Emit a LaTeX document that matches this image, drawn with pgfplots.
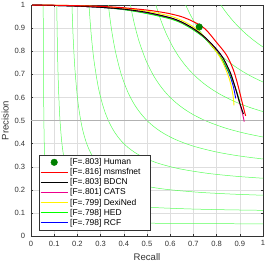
\documentclass[border=0pt]{standalone}
\usepackage{fontspec}
\setmainfont{Liberation Sans}
\usepackage{pgfplots}
\pgfplotsset{compat=1.18}
\definecolor{isoF}{rgb}{0.35,1,0.35}
\definecolor{hgreen}{rgb}{0,0.5,0}
\definecolor{refgray}{rgb}{0.7,0.7,0.7}
\begin{document}
\begin{tikzpicture}
\begin{axis}[
  scale only axis, width=232bp, height=231bp,
  xmin=0, xmax=1, ymin=0, ymax=1,
  xtick={0,0.1,0.2,0.3,0.4,0.5,0.6,0.7,0.8,0.9,1},
  ytick={0,0.1,0.2,0.3,0.4,0.5,0.6,0.7,0.8,0.9,1},
  /pgf/number format/assume math mode=true,
  ticklabel style={font=\fontsize{7.6}{8}\selectfont, text=black!80},
  xticklabel style={yshift=-1.2bp},
  yticklabel style={xshift=-2.4bp},
  xlabel={Recall}, ylabel={Precision},
  label style={font=\fontsize{9.6}{10}\selectfont, text=black!80},
  xlabel style={at={(axis description cs:0.5,0)}, anchor=center, yshift=-20.7bp},
  ylabel style={at={(axis description cs:0,0.5)}, anchor=center, yshift=25.8bp},
  grid=major, major grid style={black!13, line width=0.4pt},
  tick align=inside, major tick length=2.5bp,
  tick style={black!80, line width=0.4pt},
  axis line style={black!80, line width=0.5pt},
  legend image code/.code={\draw[#1, line width=1pt] (0bp,0bp) -- (27bp,0bp);},
  legend style={at={(0.0345,0.026)}, anchor=south west, draw=black!80, fill=white,
    font=\fontsize{8.5}{9}\selectfont, inner sep=1bp, row sep=-1.5bp},
  legend cell align=left, reverse legend,
]
% iso-F contours
\addplot[isoF, line width=0.5pt, smooth, forget plot] coordinates {(0.05263,1) (0.05325,0.82) (0.05424,0.64) (0.05610,0.46) (0.05909,0.325) (0.06351,0.235) (0.07049,0.172) (0.08247,0.127) (0.1,0.1) (0.127,0.08247) (0.172,0.07049) (0.235,0.06351) (0.325,0.05909) (0.46,0.05610) (0.64,0.05424) (0.82,0.05325) (1,0.05263)};
\addplot[isoF, line width=0.5pt, smooth, forget plot] coordinates {(0.11111,1) (0.11351,0.84) (0.11724,0.68) (0.12381,0.52) (0.13333,0.4) (0.14545,0.32) (0.16098,0.264) (0.18065,0.224) (0.2,0.2) (0.224,0.18065) (0.264,0.16098) (0.32,0.14545) (0.4,0.13333) (0.52,0.12381) (0.68,0.11724) (0.84,0.11351) (1,0.11111)};
\addplot[isoF, line width=0.5pt, smooth, forget plot] coordinates {(0.17647,1) (0.18169,0.86) (0.18947,0.72) (0.20233,0.58) (0.21923,0.475) (0.23824,0.405) (0.25922,0.356) (0.28158,0.321) (0.3,0.3) (0.321,0.28158) (0.356,0.25922) (0.405,0.23824) (0.475,0.21923) (0.58,0.20233) (0.72,0.18947) (0.86,0.18169) (1,0.17647)};
\addplot[isoF, line width=0.5pt, smooth, forget plot] coordinates {(0.25,1) (0.25882,0.88) (0.27143,0.76) (0.29091,0.64) (0.31429,0.55) (0.33793,0.49) (0.36129,0.448) (0.38349,0.418) (0.4,0.4) (0.418,0.38349) (0.448,0.36129) (0.49,0.33793) (0.55,0.31429) (0.64,0.29091) (0.76,0.27143) (0.88,0.25882) (1,0.25)};
\addplot[isoF, line width=0.5pt, smooth, forget plot] coordinates {(0.33333,1) (0.34615,0.9) (0.36364,0.8) (0.38889,0.7) (0.41667,0.625) (0.44231,0.575) (0.46552,0.54) (0.48585,0.515) (0.5,0.5) (0.515,0.48585) (0.54,0.46552) (0.575,0.44231) (0.625,0.41667) (0.7,0.38889) (0.8,0.36364) (0.9,0.34615) (1,0.33333)};
\addplot[isoF, line width=0.5pt, smooth, forget plot] coordinates {(0.42857,1) (0.44516,0.92) (0.46667,0.84) (0.49565,0.76) (0.525,0.7) (0.55,0.66) (0.57108,0.632) (0.58846,0.612) (0.6,0.6) (0.612,0.58846) (0.632,0.57108) (0.66,0.55) (0.7,0.525) (0.76,0.49565) (0.84,0.46667) (0.92,0.44516) (1,0.42857)};
\addplot[isoF, line width=0.5pt, smooth, forget plot] coordinates {(0.53846,1) (0.55763,0.94) (0.58113,0.88) (0.61064,0.82) (0.63824,0.775) (0.66013,0.745) (0.67754,0.724) (0.69123,0.709) (0.7,0.7) (0.709,0.69123) (0.724,0.67754) (0.745,0.66013) (0.775,0.63824) (0.82,0.61064) (0.88,0.58113) (0.94,0.55763) (1,0.53846)};
\addplot[isoF, line width=0.5pt, smooth, forget plot] coordinates {(0.66667,1) (0.68571,0.96) (0.70769,0.92) (0.73333,0.88) (0.75556,0.85) (0.77209,0.83) (0.78462,0.816) (0.79409,0.806) (0.8,0.8) (0.806,0.79409) (0.816,0.78462) (0.83,0.77209) (0.85,0.75556) (0.88,0.73333) (0.92,0.70769) (0.96,0.68571) (1,0.66667)};
\addplot[isoF, line width=0.5pt, smooth, forget plot] coordinates {(0.81818,1) (0.83208,0.98) (0.84706,0.96) (0.86327,0.94) (0.87632,0.925) (0.88548,0.915) (0.89214,0.908) (0.89702,0.903) (0.9,0.9) (0.903,0.89702) (0.908,0.89214) (0.915,0.88548) (0.925,0.87632) (0.94,0.86327) (0.96,0.84706) (0.98,0.83208) (1,0.81818)};
% reference line
\addplot[refgray, line width=1.6pt, forget plot] coordinates {(0,0.5) (1,0.5)};
% PR curves
\addplot[blue, line width=0.9pt, smooth] coordinates {(0.005,1) (0.1,0.998) (0.2,0.995) (0.3,0.99) (0.4,0.981) (0.5,0.965) (0.6,0.943) (0.65,0.924) (0.7,0.895) (0.75,0.856) (0.8,0.8) (0.83,0.752) (0.855,0.70) (0.87,0.655) (0.878,0.62) (0.882,0.596)};
\addlegendentry{[F=.798] RCF}
\addplot[green, line width=0.9pt, smooth] coordinates {(0.005,1) (0.1,0.998) (0.2,0.995) (0.3,0.99) (0.4,0.98) (0.5,0.963) (0.6,0.94) (0.65,0.921) (0.7,0.892) (0.75,0.855) (0.8,0.797) (0.83,0.755) (0.86,0.695) (0.88,0.645) (0.893,0.605) (0.9,0.58)};
\addlegendentry{[F=.798] HED}
\addplot[yellow, line width=0.9pt, smooth] coordinates {(0.005,1) (0.1,0.999) (0.2,0.997) (0.3,0.993) (0.4,0.986) (0.5,0.973) (0.6,0.952) (0.65,0.933) (0.7,0.905) (0.75,0.86) (0.79,0.81) (0.82,0.765) (0.84,0.72) (0.855,0.68) (0.865,0.64) (0.872,0.6) (0.875,0.565)};
\addlegendentry{[F=.799] DexiNed}
\addplot[magenta, line width=0.9pt, smooth] coordinates {(0.005,1) (0.1,0.998) (0.2,0.995) (0.3,0.99) (0.4,0.982) (0.5,0.967) (0.6,0.944) (0.65,0.925) (0.7,0.897) (0.75,0.859) (0.8,0.807) (0.83,0.766) (0.86,0.705) (0.875,0.66) (0.89,0.608) (0.9,0.572) (0.91,0.537) (0.916,0.51) (0.919,0.495)};
\addlegendentry{[F=.801] CATS}
\addplot[black, line width=0.9pt, smooth] coordinates {(0.005,1) (0.1,0.998) (0.2,0.995) (0.3,0.99) (0.4,0.982) (0.5,0.968) (0.6,0.945) (0.65,0.926) (0.7,0.898) (0.75,0.86) (0.8,0.808) (0.83,0.767) (0.86,0.705) (0.875,0.66) (0.89,0.61) (0.9,0.575) (0.91,0.545) (0.916,0.528)};
\addlegendentry{[F=.803] BDCN}
\addplot[red, line width=1pt, smooth] coordinates {(0.005,1) (0.1,0.999) (0.2,0.997) (0.3,0.994) (0.4,0.988) (0.5,0.978) (0.55,0.971) (0.6,0.962) (0.65,0.949) (0.7,0.928) (0.75,0.897) (0.8,0.838) (0.843,0.783) (0.872,0.72) (0.89,0.66) (0.905,0.6) (0.916,0.555) (0.925,0.52)};
\addlegendentry{[F=.816] msmsfnet\hspace*{7bp}}
\addplot[hgreen, only marks, mark=*, mark size=3.3bp, mark options={fill=hgreen, draw=hgreen},
  legend image code/.code={\fill[hgreen] (13.5bp,0bp) circle (3.3bp);}] coordinates {(0.725,0.905)};
\addlegendentry{[F=.803] Human}
\end{axis}
\pgfresetboundingbox
\path (current axis.south west) ++(-31bp,-25bp) rectangle ++(266bp,261bp);
\end{tikzpicture}
\end{document}
